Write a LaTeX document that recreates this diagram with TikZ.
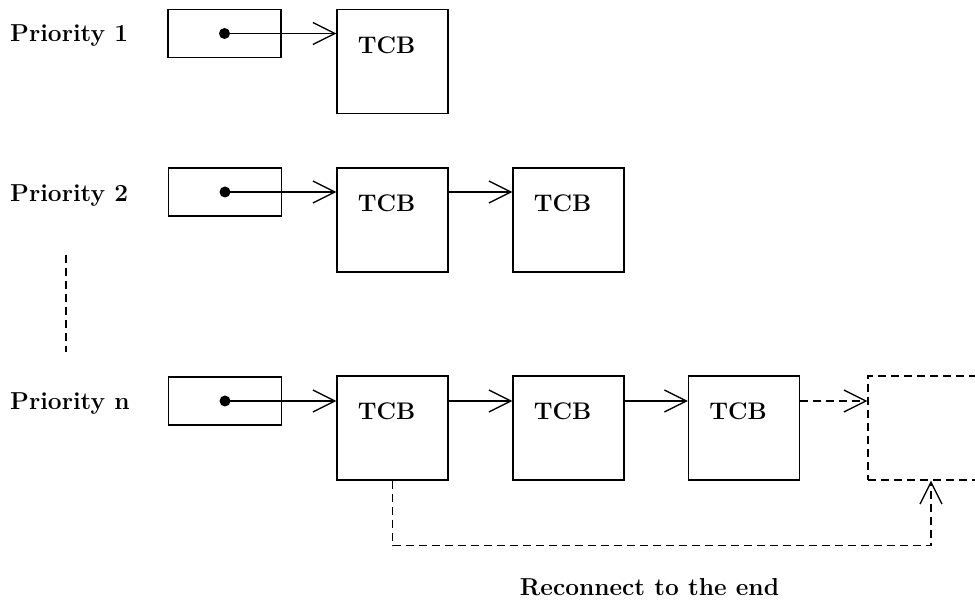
\documentclass[tikz,border=0pt]{standalone}
\usetikzlibrary{arrows.meta, positioning}

\tikzset{
  headbox/.style={draw, line width=1.3pt, minimum width=113pt, minimum height=48pt, inner sep=0pt},
  tcbbox/.style={draw, line width=1.3pt, minimum width=111pt, minimum height=104pt, inner sep=0pt},
  tcbtext/.style={font=\fontsize{24}{29}\selectfont\bfseries, anchor=center, xshift=-6pt, yshift=-36pt},
  prio/.style={font=\fontsize{24.5}{29}\selectfont\bfseries, anchor=base west, inner sep=0pt},
  dot/.style={circle, fill, inner sep=0pt, minimum size=11pt},
  link/.style={-{Straight Barb[length=22pt, width=22pt]}, line width=1.3pt},
  dots/.style={dash pattern=on 8pt off 5pt, line width=1.3pt},
}

\begin{document}
\begin{tikzpicture}[x=1pt, y=1pt]
  \useasboundingbox (0,0) rectangle (975,-601);

  % priority 1
  \node[prio] (p1) at (10,-42) {Priority 1};
  \node[headbox] (h1) at (224.5,-33.5) {};
  \node[tcbbox, label={[tcbtext]north:TCB}] (t11) at (392.5,-61.5) {};
  \node[dot] (d1) at (h1.center) {};
  \draw[link] (d1.center) -- (d1.center -| t11.west);

  % priority 2
  \node[prio] (p2) at (10,-201.5) {Priority 2};
  \node[headbox] (h2) at (225,-192) {};
  \node[tcbbox, label={[tcbtext]north:TCB}] (t21) at (392.5,-220) {};
  \node[tcbbox, label={[tcbtext]north:TCB}] (t22) at (568.5,-220) {};
  \node[dot] (d2) at (h2.center) {};
  \draw[link] (d2.center) -- (d2.center -| t21.west);
  \draw[link] (d2.center -| t21.east) -- (d2.center -| t22.west);

  % skipped levels
  \draw[dots] (66,-255) -- (66,-352);

  % priority n
  \node[prio] (pn) at (10,-410) {Priority n};
  \node[headbox] (hn) at (225,-401) {};
  \node[tcbbox, label={[tcbtext]north:TCB}] (tn1) at (392.5,-428) {};
  \node[tcbbox, label={[tcbtext]north:TCB}] (tn2) at (568.5,-428) {};
  \node[tcbbox, label={[tcbtext]north:TCB}] (tn3) at (744,-428) {};
  \node[tcbbox, dots, minimum width=126pt] (tnx) at (931,-428) {};
  \node[dot] (dn) at (hn.center) {};
  \draw[link] (dn.center) -- (dn.center -| tn1.west);
  \draw[link] (dn.center -| tn1.east) -- (dn.center -| tn2.west);
  \draw[link] (dn.center -| tn2.east) -- (dn.center -| tn3.west);
  \draw[link, dots] (dn.center -| tn3.east) -- (dn.center -| tnx.west);

  % move the first block to the tail
  \draw[link, dots] (tn1.south) -- ++(0,-65) -| (tnx.south);
  \node[prio, anchor=base] (note) at (649.5,-595) {Reconnect to the end};
\end{tikzpicture}
\end{document}
